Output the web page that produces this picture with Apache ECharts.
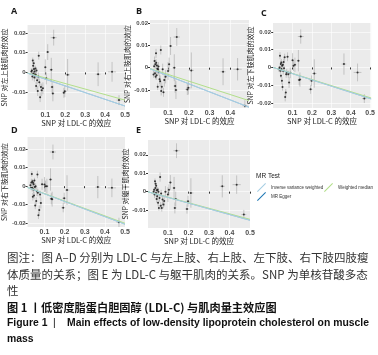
<!DOCTYPE html>
<html>
<head>
<meta charset="utf-8">
<script src="https://cdn.jsdelivr.net/npm/echarts@6/dist/echarts.min.js"></script>
<style>
  html, body { margin: 0; padding: 0; background: #fff; }
  #chart { width: 378px; height: 355px; }
</style>
</head>
<body>
<div id="chart"></div>
<script>
// SNP 对 LDL-C 的效应（各图共用）及其标准误
var snpX = [0.030, 0.033, 0.035, 0.037, 0.039, 0.040, 0.042, 0.043, 0.045, 0.046,
            0.048, 0.050, 0.052, 0.054, 0.056, 0.059, 0.062, 0.065, 0.067, 0.070,
            0.074, 0.078, 0.082, 0.088, 0.100, 0.105, 0.112, 0.130, 0.134, 0.138,
            0.142, 0.193, 0.198, 0.212, 0.365, 0.435, 0.470];
var snpXse = [0.003, 0.003, 0.004, 0.003, 0.004, 0.003, 0.004, 0.003, 0.004, 0.003,
              0.004, 0.003, 0.004, 0.004, 0.003, 0.004, 0.005, 0.004, 0.005, 0.004,
              0.005, 0.005, 0.006, 0.006, 0.006, 0.006, 0.008, 0.008, 0.008, 0.008,
              0.015, 0.010, 0.010, 0.012, 0.012, 0.020, 0.012];
// SNP 对结局的效应的标准误
var snpYse = [0.0015, 0.001, 0.002, 0.0015, 0.002, 0.0012, 0.002, 0.0015, 0.002, 0.0012,
              0.002, 0.0015, 0.002, 0.002, 0.0015, 0.002, 0.0025, 0.002, 0.002, 0.002,
              0.0025, 0.002, 0.003, 0.003, 0.004, 0.003, 0.004, 0.006, 0.003, 0.004,
              0.004, 0.0025, 0.003, 0.008, 0.006, 0.005, 0.0025];

// SNP 对各部位肌肉的效应
var effA = [0.0005, 0.001, -0.002, 0.006, 0.0034, -0.0005, 0.0046, 0.0017, -0.0026, 0.0005,
            -0.001, 0.002, -0.0012, -0.0068, 0.001, -0.004, -0.0094, -0.002, 0.0085, -0.005,
            -0.0125, -0.0074, -0.009, -0.008, 0.0026, -0.003, 0.0103, 0.0014, -0.0074, -0.0106,
            0.0176, -0.0103, -0.0095, -0.0012, -0.0009, 0.0003, -0.014];
var effB = [-0.003, 0.0007, 0.003, -0.0025, 0.0015, -0.004, 0.0064, 0.0022, -0.0034, 0.001,
            -0.0005, -0.0085, -0.0007, 0.0005, -0.002, -0.0052, -0.006, 0.0079, -0.0104, -0.0085,
            -0.0007, -0.011, -0.0055, -0.004, -0.0015, 0.0015, 0.0097, 0.0, -0.0082, -0.010,
            0.0137, -0.0097, -0.009, -0.0012, -0.0018, -0.0007, -0.017];
var effC = [-0.001, 0.0, 0.0066, -0.0019, 0.0019, -0.0047, 0.0028, -0.0009, -0.0075, 0.001,
            -0.011, 0.0015, -0.002, 0.003, -0.0005, 0.0057, -0.0166, -0.0141, -0.0038, -0.0028,
            0.006, -0.0038, -0.0085, -0.003, 0.004, 0.001, 0.0015, 0.0038, -0.007, -0.0068,
            0.0174, -0.0123, -0.0075, -0.0034, 0.0019, -0.0028, -0.0175];
var effD = [0.0005, -0.001, 0.002, 0.0066, -0.0009, 0.0027, -0.0057, 0.0018, -0.0018, 0.001,
            -0.005, 0.003, -0.0005, -0.0104, 0.0, -0.008, -0.0027, 0.0063, -0.0035, -0.0157,
            -0.0129, -0.0045, -0.009, 0.001, 0.0009, 0.0, 0.0, 0.0036, -0.0068, -0.007,
            0.0184, -0.0116, -0.0065, -0.0021, -0.0005, -0.0009, -0.0195];
var effE = [0.0, 0.001, -0.0015, 0.0056, 0.002, 0.0043, -0.0007, 0.0032, -0.004, 0.0007,
            -0.0025, 0.001, -0.006, 0.0, -0.0088, -0.0034, 0.0079, -0.0076, -0.001, -0.0088,
            -0.0043, -0.007, -0.005, 0.0, -0.0016, 0.001, 0.005, 0.002, -0.0088, -0.004,
            0.0222, -0.0094, -0.0052, -0.0007, 0.0029, 0.0038, -0.0124];
var effects = [effA, effB, effC, effD, effE];

// MR 方法斜率
var ivwSlope = [-0.034, -0.036, -0.035, -0.041, -0.031];
var eggerSlope = [-0.034, -0.036, -0.035, -0.041, -0.031];
var wmSlope = [-0.028, -0.030, -0.034, -0.040, -0.030];

var panelLetters = ['A', 'B', 'C', 'D', 'E'];
var yNames = ['SNP 对左上肢肌肉的效应', 'SNP 对右上肢肌肉的效应', 'SNP 对左下肢肌肉的效应',
              'SNP 对右下肢肌肉的效应', 'SNP 对躯干肌肉的效应'];
var xName = 'SNP 对 LDL-C 的效应';
var xTicks = [0.1, 0.2, 0.3, 0.4, 0.5];
var yTicks = [[-0.01, 0, 0.01, 0.02], [-0.01, 0, 0.01, 0.02], [-0.02, -0.01, 0, 0.01, 0.02],
              [-0.02, -0.01, 0, 0.01, 0.02], [-0.01, 0, 0.01, 0.02]];

// 面板布局
var layout = [
  { grid: { left: 26, top: 25, width: 99, height: 85 }, x: [0.011, 0.5], y: [-0.019, 0.024], tag: [15, 13] },
  { grid: { left: 150, top: 20, width: 99, height: 88 }, x: [0.013, 0.49], y: [-0.018, 0.0213], tag: [140, 13] },
  { grid: { left: 273, top: 23, width: 100, height: 85 }, x: [-0.001, 0.505], y: [-0.0228, 0.025], tag: [265, 15] },
  { grid: { left: 26, top: 137, width: 99, height: 90 }, x: [0.016, 0.5], y: [-0.022, 0.0265], tag: [15, 132] },
  { grid: { left: 148, top: 140, width: 102, height: 88 }, x: [0.003, 0.5], y: [-0.0197, 0.028], tag: [140, 132] }
];
var lineColors = { 'Inverse variance weighted': '#a6cee3', 'MR Egger': '#1f78b4', 'Weighted median': '#b2df8a' };

var grids = [], xAxes = [], yAxes = [], series = [], graphics = [];
layout.forEach(function (p, i) {
  grids.push(Object.assign({ show: true, backgroundColor: '#ebebeb', borderWidth: 0 }, p.grid));
  xAxes.push({
    type: 'value', gridIndex: i, min: p.x[0], max: p.x[1],
    name: xName, nameLocation: 'middle', nameGap: 6,
    nameTextStyle: { fontSize: 7.5, color: '#222', fontFamily: 'Noto Sans CJK SC' },
    axisLine: { show: false },
    axisTick: { show: true, length: 2, customValues: xTicks, lineStyle: { color: '#333' } },
    axisLabel: { customValues: xTicks, fontSize: 7, color: '#4d4d4d', margin: 2, fontWeight: 'bold',
      fontFamily: 'Liberation Sans', formatter: function (v) { return v.toFixed(1); } },
    splitLine: { show: true, lineStyle: { color: '#fff', width: 0.6 } }
  });
  yAxes.push({
    type: 'value', gridIndex: i, min: p.y[0], max: p.y[1],
    name: yNames[i], nameLocation: 'middle', nameGap: 15, nameRotate: 90,
    nameTextStyle: { fontSize: 7, color: '#222', fontFamily: 'Noto Sans CJK SC' },
    axisLine: { show: false },
    axisTick: { show: true, length: 2, customValues: yTicks[i], lineStyle: { color: '#333' } },
    axisLabel: { customValues: yTicks[i], fontSize: 6, color: '#4d4d4d', margin: 2, fontWeight: 'bold',
      fontFamily: 'Liberation Sans', formatter: function (v) { return v === 0 ? '0' : v.toFixed(2); } },
    splitLine: { show: true, lineStyle: { color: '#fff', width: 0.6 } }
  });

  var pts = snpX.map(function (x, k) { return [x, effects[i][k], snpXse[k], snpYse[k]]; });
  series.push({
    type: 'custom', xAxisIndex: i, yAxisIndex: i, clip: true, silent: true,
    encode: { x: 0, y: 1 },
    data: pts,
    renderItem: function (params, api) {
      var x = api.value(0), y = api.value(1), xs = api.value(2), ys = api.value(3);
      var a = api.coord([x - xs, y]), b = api.coord([x + xs, y]);
      var c = api.coord([x, y - ys]), d = api.coord([x, y + ys]);
      var st = { stroke: '#a8a8a8', lineWidth: 0.6 };
      return { type: 'group', children: [
        { type: 'line', shape: { x1: a[0], y1: a[1], x2: b[0], y2: b[1] }, style: st },
        { type: 'line', shape: { x1: c[0], y1: c[1], x2: d[0], y2: d[1] }, style: st }
      ] };
    }
  });
  series.push({
    type: 'scatter', xAxisIndex: i, yAxisIndex: i, symbolSize: 2, silent: true,
    itemStyle: { color: '#111' },
    data: pts.map(function (d) { return [d[0], d[1]]; })
  });
  var slopes = { 'Inverse variance weighted': ivwSlope[i], 'MR Egger': eggerSlope[i], 'Weighted median': wmSlope[i] };
  ['MR Egger', 'Weighted median', 'Inverse variance weighted'].forEach(function (m) {
    series.push({
      type: 'line', name: m, xAxisIndex: i, yAxisIndex: i, showSymbol: false, clip: true, silent: true,
      color: lineColors[m],
      lineStyle: { color: lineColors[m], width: m === 'MR Egger' ? 0.7 : 1, opacity: m === 'MR Egger' ? 0.6 : 1 },
      data: [[p.x[0], slopes[m] * p.x[0]], [p.x[1], slopes[m] * p.x[1]]]
    });
  });

  graphics.push({ type: 'text', left: p.tag[0] - 4, top: p.tag[1] - 6,
    style: { text: panelLetters[i], font: 'bold 9px "Open Sans"', fill: '#1a1a1a' } });
});

graphics.push({ type: 'text', left: 256, top: 173, style: { text: 'MR Test', font: '6.5px "Liberation Sans"', fill: '#222' } });

var caption = [
  { text: '图注：图 A–D 分别为 LDL-C 与左上肢、右上肢、左下肢、右下肢四肢瘦', x: 7, y: 258, font: '11.5px "Noto Sans CJK SC"', fill: '#333' },
  { text: '体质量的关系；图 E 为 LDL-C 与躯干肌肉的关系。SNP 为单核苷酸多态', x: 7, y: 275, font: '11.5px "Noto Sans CJK SC"', fill: '#333' },
  { text: '性', x: 7, y: 291, font: '11.5px "Noto Sans CJK SC"', fill: '#333' },
  { text: '图 1 丨低密度脂蛋白胆固醇 (LDL-C) 与肌肉量主效应图', x: 7, y: 308, font: 'bold 11.2px "Noto Sans CJK SC"', fill: '#111' },
  { text: 'Figure 1', x: 7, y: 323, font: 'bold 10.4px "Liberation Sans"', fill: '#111' },
  { text: '|', x: 53, y: 323, font: '10.4px "Liberation Sans"', fill: '#111' },
  { text: 'Main effects of low-density lipoprotein cholesterol on muscle', x: 67, y: 323, font: 'bold 10.4px "Liberation Sans"', fill: '#111' },
  { text: 'mass', x: 7, y: 339, font: 'bold 10.4px "Liberation Sans"', fill: '#111' }
];
caption.forEach(function (c) {
  graphics.push({ type: 'text', x: c.x, y: c.y, style: { text: c.text, font: c.font, fill: c.fill, textVerticalAlign: 'middle' } });
});

var legendBase = {
  padding: 0, itemWidth: 9, itemHeight: 9,
  icon: 'path://M0,9.2 L9.2,0 L10,0.8 L0.8,10 Z',
  textStyle: { fontSize: 4.5, color: '#333', fontFamily: 'Liberation Sans' },
  selectedMode: false
};

var chart = echarts.init(document.getElementById('chart'), null, { renderer: 'canvas' });
chart.setOption({
  animation: false,
  backgroundColor: '#fff',
  grid: grids,
  xAxis: xAxes,
  yAxis: yAxes,
  legend: [
    Object.assign({ left: 257, top: 183, data: ['Inverse variance weighted'] }, legendBase),
    Object.assign({ left: 324, top: 183, data: ['Weighted median'] }, legendBase),
    Object.assign({ left: 257, top: 192, data: ['MR Egger'] }, legendBase)
  ],
  graphic: graphics,
  series: series
});
</script>
</body>
</html>
